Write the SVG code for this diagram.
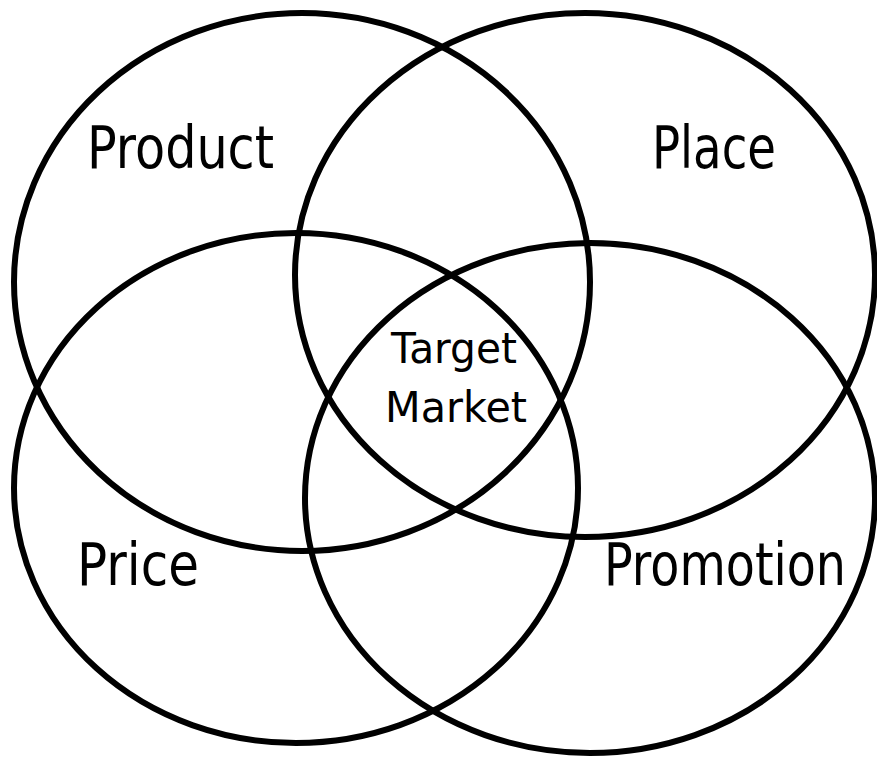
<svg xmlns="http://www.w3.org/2000/svg" width="877" height="757" viewBox="0 0 877 757">
  <style>
    .ring { fill: none; stroke: #000; stroke-width: 6; }
    .lbl { font-family: "DejaVu Sans", "Liberation Sans", sans-serif; fill: #000; }
    .big { font-size: 58px; }
    .small { font-size: 42px; }
  </style>
  <rect width="877" height="757" fill="#fff"/>
  <!-- four overlapping marketing-mix sets -->
  <g id="product">
    <ellipse class="ring" cx="302" cy="282" rx="288" ry="269"/>
    <text class="lbl big" x="87" y="168" textLength="187" lengthAdjust="spacingAndGlyphs">Product</text>
  </g>
  <g id="place">
    <ellipse class="ring" cx="585" cy="275" rx="290" ry="262"/>
    <text class="lbl big" x="652" y="168" textLength="124" lengthAdjust="spacingAndGlyphs">Place</text>
  </g>
  <g id="price">
    <ellipse class="ring" cx="296" cy="488" rx="282" ry="255"/>
    <text class="lbl big" x="77" y="585" textLength="122" lengthAdjust="spacingAndGlyphs">Price</text>
  </g>
  <g id="promotion">
    <ellipse class="ring" cx="590" cy="498" rx="285" ry="255"/>
    <text class="lbl big" x="604" y="585" textLength="242" lengthAdjust="spacingAndGlyphs">Promotion</text>
  </g>
  <!-- shared centre region -->
  <g id="target-market">
    <text class="lbl small" x="391" y="363" textLength="126" lengthAdjust="spacingAndGlyphs">Target</text>
    <text class="lbl small" x="385" y="422" textLength="142" lengthAdjust="spacingAndGlyphs">Market</text>
  </g>
</svg>
